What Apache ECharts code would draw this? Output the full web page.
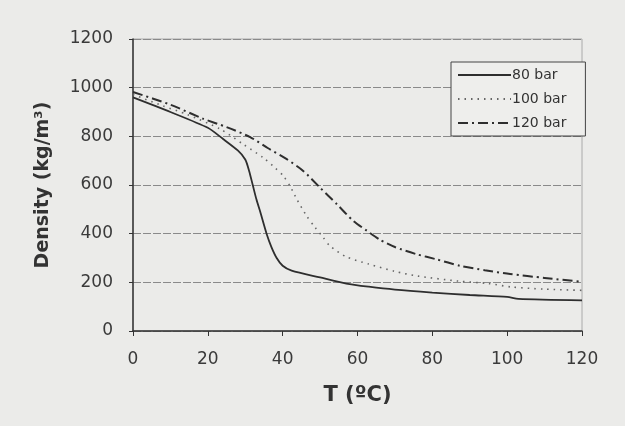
<!DOCTYPE html>
<html><head><meta charset="utf-8">
<script src="https://cdn.jsdelivr.net/npm/echarts@6/dist/echarts.min.js"></script>
<style>html,body{margin:0;padding:0;background:#ebebe9;}#c{width:625px;height:426px;}</style>
</head><body><div id="c"></div>
<script>
const seriesNames = ['80 bar', '100 bar', '120 bar'];
const xTicks = [0, 20, 40, 60, 80, 100, 120];
const yTicks = [0, 200, 400, 600, 800, 1000, 1200];
const bar80 = [[0,960],[10,900],[20,835],[24,790],[28,742],[30,705],[31,660],[32,600],[33,540],[34,490],[35.7,400],[37,345],[38.4,300],[40,268],[42.4,248],[50,220],[57,195],[63,182],[70,170],[80,158],[90,148],[100,140],[103,132],[120,126]];
const bar100 = [[0,972],[8,925],[14.4,890],[23.3,830],[29.5,767],[34.8,712],[38,670],[40.2,637],[42,595],[43.8,541],[46.4,473],[48.7,425],[50.9,383],[52.7,349],[57,305],[63,275],[70,245],[76,226],[87,205],[95,195],[101,181],[110,172],[120,167]];
const bar120 = [[0,982],[10,930],[18.8,872],[25,838],[31.3,797],[36,752],[41.1,706],[45.5,658],[50,589],[54.5,521],[58.9,452],[62.5,412],[66,375],[70,345],[75.9,315],[81,295],[87.4,268],[94,250],[100.8,234],[110,218],[120,202]];

const chart = echarts.init(document.getElementById('c'), null, {renderer: 'canvas'});
const font = 'DejaVu Sans, Verdana, sans-serif';
const lineColor = '#2e2e2e';
chart.setOption({
  backgroundColor: '#ebebe9',
  animation: false,
  grid: {left: 133, right: 43, top: 39, bottom: 95},
  legend: {
    orient: 'vertical', left: 451, top: 62,
    data: seriesNames,
    backgroundColor: '#eeeeec',
    borderColor: '#444', borderWidth: 1,
    padding: [6, 19, 6, 6],
    itemGap: 10,
    itemWidth: 53, itemHeight: 14,
    itemStyle: {opacity: 0},
    textStyle: {fontFamily: font, fontSize: 14, color: '#333', padding: [0,0,0,-4]}
  },
  xAxis: {
    type: 'value', min: 0, max: 120, interval: 20,
    name: 'T (ºC)', nameLocation: 'middle', nameGap: 54,
    nameTextStyle: {fontFamily: font, fontSize: 21, fontWeight: 'bold', color: '#333'},
    axisLine: {show: true, lineStyle: {color: '#333', width: 1.5}},
    axisTick: {show: true, length: 5, lineStyle: {color: '#333'}},
    axisLabel: {fontFamily: font, fontSize: 17, color: '#3a3a3a', margin: 20,
      formatter: v => xTicks.includes(v) ? String(v) : ''},
    splitLine: {show: false}
  },
  yAxis: {
    type: 'value', min: 0, max: 1200, interval: 200,
    name: 'Density (kg/m³)', nameLocation: 'middle', nameGap: 80, nameRotate: 90,
    nameTextStyle: {fontFamily: font, fontSize: 19, fontWeight: 'bold', color: '#333'},
    axisLine: {show: true, lineStyle: {color: '#333', width: 1.5}},
    axisTick: {show: true, length: 4, lineStyle: {color: '#333'}},
    axisLabel: {fontFamily: font, fontSize: 17, color: '#3a3a3a', margin: 20,
      formatter: v => yTicks.includes(v) ? String(v) : ''},
    splitLine: {show: true, lineStyle: {color: '#8a8a8a', width: 1, type: [8, 2]}}
  },
  series: [
    {name: seriesNames[0], type: 'line', data: bar80, symbol: 'none', smooth: 0.25,
     lineStyle: {color: lineColor, width: 1.8, type: 'solid'}, itemStyle: {color: lineColor}},
    {name: seriesNames[1], type: 'line', data: bar100, symbol: 'none', smooth: 0.25,
     lineStyle: {color: '#666', width: 1.6, type: [1.5, 5]}, itemStyle: {color: '#666'}},
    {name: seriesNames[2], type: 'line', data: bar120, symbol: 'none', smooth: 0.25,
     lineStyle: {color: lineColor, width: 2, type: [10, 4, 2, 4]}, itemStyle: {color: lineColor}}
  ],
  graphic: [{
    type: 'rect', shape: {x: 133, y: 39, width: 449, height: 292},
    style: {fill: 'none', stroke: '#aaa', lineWidth: 1}, silent: true, z: -1
  }]
});
</script></body></html>
